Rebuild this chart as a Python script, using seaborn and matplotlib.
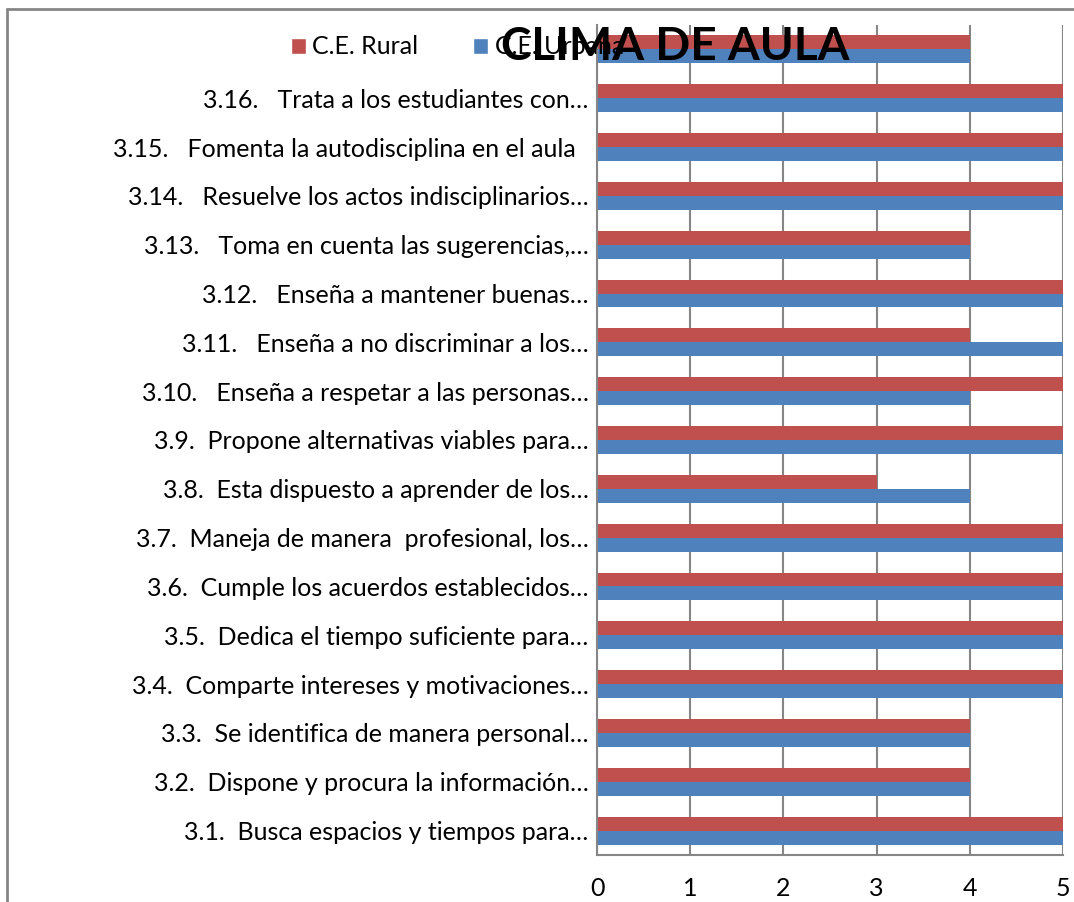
import pandas as pd
import matplotlib.pyplot as plt
from matplotlib.lines import Line2D
from matplotlib.patches import Patch
import seaborn as sns

# Clima de aula: comparación C.E. Rural vs C.E. Urbana (escala 0-5)

items = [
    " ",
    "3.16.   Trata a los estudiantes con…",
    "3.15.   Fomenta la autodisciplina en el aula  ",
    "3.14.   Resuelve los actos indisciplinarios…",
    "3.13.   Toma en cuenta las sugerencias,…",
    "3.12.   Enseña a mantener buenas…",
    "3.11.   Enseña a no discriminar a los…",
    "3.10.   Enseña a respetar a las personas…",
    "3.9.  Propone alternativas viables para…",
    "3.8.  Esta dispuesto a aprender de los…",
    "3.7.  Maneja de manera  profesional, los…",
    "3.6.  Cumple los acuerdos establecidos…",
    "3.5.  Dedica el tiempo suficiente para…",
    "3.4.  Comparte intereses y motivaciones…",
    "3.3.  Se identifica de manera personal…",
    "3.2.  Dispone y procura la información…",
    "3.1.  Busca espacios y tiempos para…",
]
rural = [4, 5, 5, 5, 4, 5, 4, 5, 5, 3, 5, 5, 5, 5, 4, 4, 5]
urbana = [4, 5, 5, 5, 4, 5, 5, 4, 5, 4, 5, 5, 5, 5, 4, 4, 5]
series = ["C.E. Rural", "C.E. Urbana"]
colors = ["#C0504D", "#4F81BD"]
xticks = [0, 1, 2, 3, 4, 5]

df = pd.concat([
    pd.DataFrame({"item": items, "valor": rural, "centro": series[0]}),
    pd.DataFrame({"item": items, "valor": urbana, "centro": series[1]}),
])

sns.set_style("white")
plt.rcParams["font.family"] = ["Lato", "DejaVu Sans"]
plt.rcParams["text.color"] = "black"
plt.rcParams["xtick.color"] = "black"
plt.rcParams["ytick.color"] = "black"

fig = plt.figure(figsize=(10.74, 9.02), dpi=100)
ax = fig.add_axes([0.5559, 0.0521, 0.9898 - 0.5559, 0.9723 - 0.0521])

sns.barplot(
    data=df, y="item", x="valor", hue="centro",
    order=items, hue_order=series, palette=colors, saturation=1,
    orient="h", width=0.57, linewidth=0, legend=False, ax=ax,
)

ax.set_xlim(0, 5)
ax.set_xticks(xticks)
ax.xaxis.grid(True, color="#868686", linewidth=1.5)
ax.set_axisbelow(True)
ax.set_xlabel("")
ax.set_ylabel("")
ax.tick_params(axis="x", length=0, pad=16, labelsize=18)
ax.tick_params(axis="y", length=0, pad=6, labelsize=18)
for side in ["top", "right"]:
    ax.spines[side].set_visible(False)
for side in ["left", "bottom"]:
    ax.spines[side].set_color("#868686")
    ax.spines[side].set_linewidth(1.5)

# marco exterior del gráfico (solo lados superior e izquierdo visibles)
y_top = 1 - 8.5 / 902
x_left = 7.5 / 1074
fig.add_artist(Line2D([x_left, 1], [y_top, y_top], transform=fig.transFigure,
                      color="#868686", linewidth=2))
fig.add_artist(Line2D([x_left, x_left], [0, y_top], transform=fig.transFigure,
                      color="#868686", linewidth=2))

handles = [Patch(facecolor=c, label=s) for c, s in zip(colors, series)]
fig.legend(handles=handles, loc="center left", bbox_to_anchor=(0.25, 0.948),
           ncol=2, frameon=False, fontsize=18, handlelength=0.6,
           handleheight=0.6, handletextpad=0.25, columnspacing=2.2)

fig.text(0.6285, 0.948, "CLIMA DE AULA", ha="center", va="center",
         fontsize=33, fontweight="bold")

fig.savefig("out.png", dpi=100)
